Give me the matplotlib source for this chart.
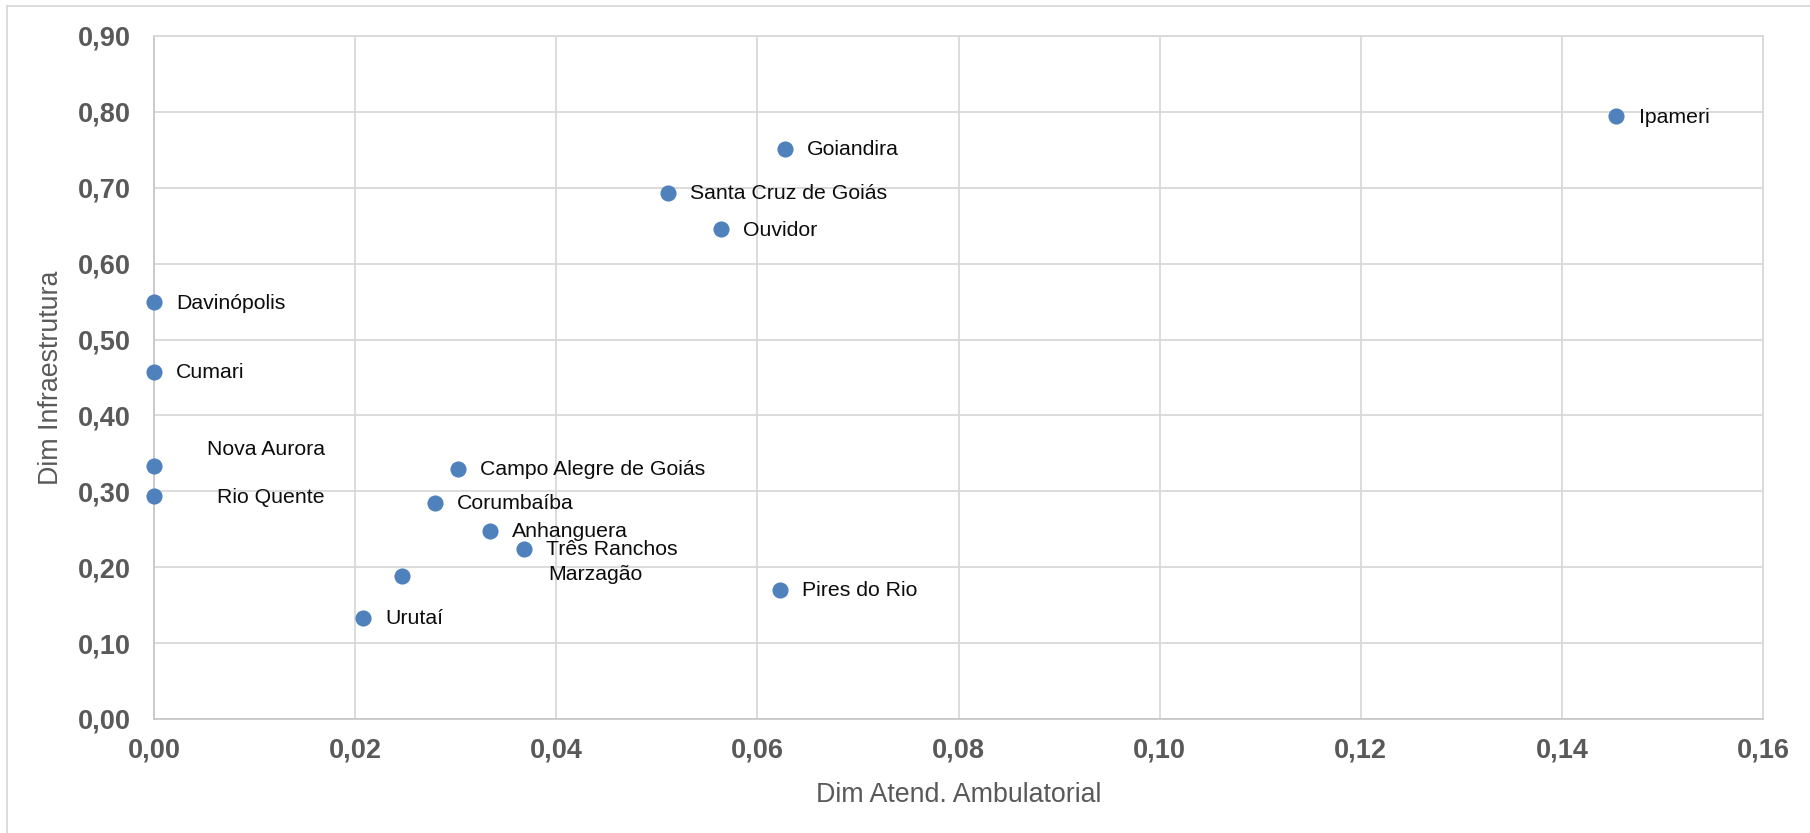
import matplotlib
matplotlib.use("Agg")
import matplotlib.pyplot as plt
from matplotlib.lines import Line2D
from matplotlib.ticker import FuncFormatter, MultipleLocator

plt.rcParams['font.family'] = ['Liberation Sans', 'DejaVu Sans']

# data
municipios = ["Ipameri", "Goiandira", "Santa Cruz de Goiás", "Ouvidor", "Davinópolis",
              "Cumari", "Nova Aurora", "Rio Quente", "Campo Alegre de Goiás", "Corumbaíba",
              "Anhanguera", "Três Ranchos", "Marzagão", "Urutaí", "Pires do Rio"]
atend_ambulatorial = [0.1454, 0.0627, 0.0511, 0.0564, 0.0, 0.0, 0.0, 0.0, 0.0302, 0.0279,
                      0.0334, 0.0368, 0.0247, 0.0208, 0.0622]
infraestrutura = [0.794, 0.751, 0.693, 0.645, 0.549, 0.457, 0.334, 0.294, 0.329, 0.285,
                  0.248, 0.224, 0.189, 0.133, 0.170]

# labels that were dragged away from their points (offset in pt, alignment)
moved = {"Nova Aurora": (123, 11.5, 'right'),
         "Rio Quente": (123, -1, 'right'),
         "Marzagão": (105, 1, 'left')}

grid_c = '#D9D9D9'
tick_c = '#595959'

fig = plt.figure(figsize=(18.1, 8.33), dpi=100)
ax = fig.add_axes([0.0851, 0.1369, 0.9741 - 0.0851, 0.9568 - 0.1369])

ax.scatter(atend_ambulatorial, infraestrutura, s=135, color='#4F81BD', zorder=3,
           linewidths=0, clip_on=False)

for nome, xv, yv in zip(municipios, atend_ambulatorial, infraestrutura):
    dx, dy, ha = moved.get(nome, (16, -0.5, 'left'))
    ax.annotate(nome, (xv, yv), xytext=(dx, dy), textcoords='offset points',
                ha=ha, va='center', fontsize=15.3, color='#0D0D0D', zorder=4)

ax.set_xlim(0, 0.16)
ax.set_ylim(0, 0.90)
ax.xaxis.set_major_locator(MultipleLocator(0.02))
ax.yaxis.set_major_locator(MultipleLocator(0.10))
ax.xaxis.set_major_formatter(FuncFormatter(lambda v, p: f"{v:.2f}".replace('.', ',')))
ax.yaxis.set_major_formatter(FuncFormatter(lambda v, p: f"{v:.2f}".replace('.', ',')))

ax.grid(True, color=grid_c, linewidth=1.3)
ax.set_axisbelow(True)
for s in ax.spines.values():
    s.set_color(grid_c)
    s.set_linewidth(1.3)
ax.spines['left'].set_color('#C8C8C8')
ax.spines['bottom'].set_color('#C8C8C8')

ax.tick_params(length=0, labelsize=19.5, labelcolor=tick_c)
ax.tick_params(axis='y', pad=17)
ax.tick_params(axis='x', pad=13)
for lab in ax.get_xticklabels() + ax.get_yticklabels():
    lab.set_fontweight('bold')

ax.set_xlabel("Dim Atend. Ambulatorial", fontsize=19.3, color=tick_c, labelpad=14)
ax.set_ylabel("Dim Infraestrutura", fontsize=19.3, color=tick_c, labelpad=10)

# chart area border (top and left edge visible)
fig.add_artist(Line2D([7 / 1810, 1], [1 - 6 / 833, 1 - 6 / 833], color=grid_c, lw=1.3))
fig.add_artist(Line2D([7 / 1810, 7 / 1810], [0, 1 - 6 / 833], color=grid_c, lw=1.3))

fig.savefig("out.png", dpi=100)
